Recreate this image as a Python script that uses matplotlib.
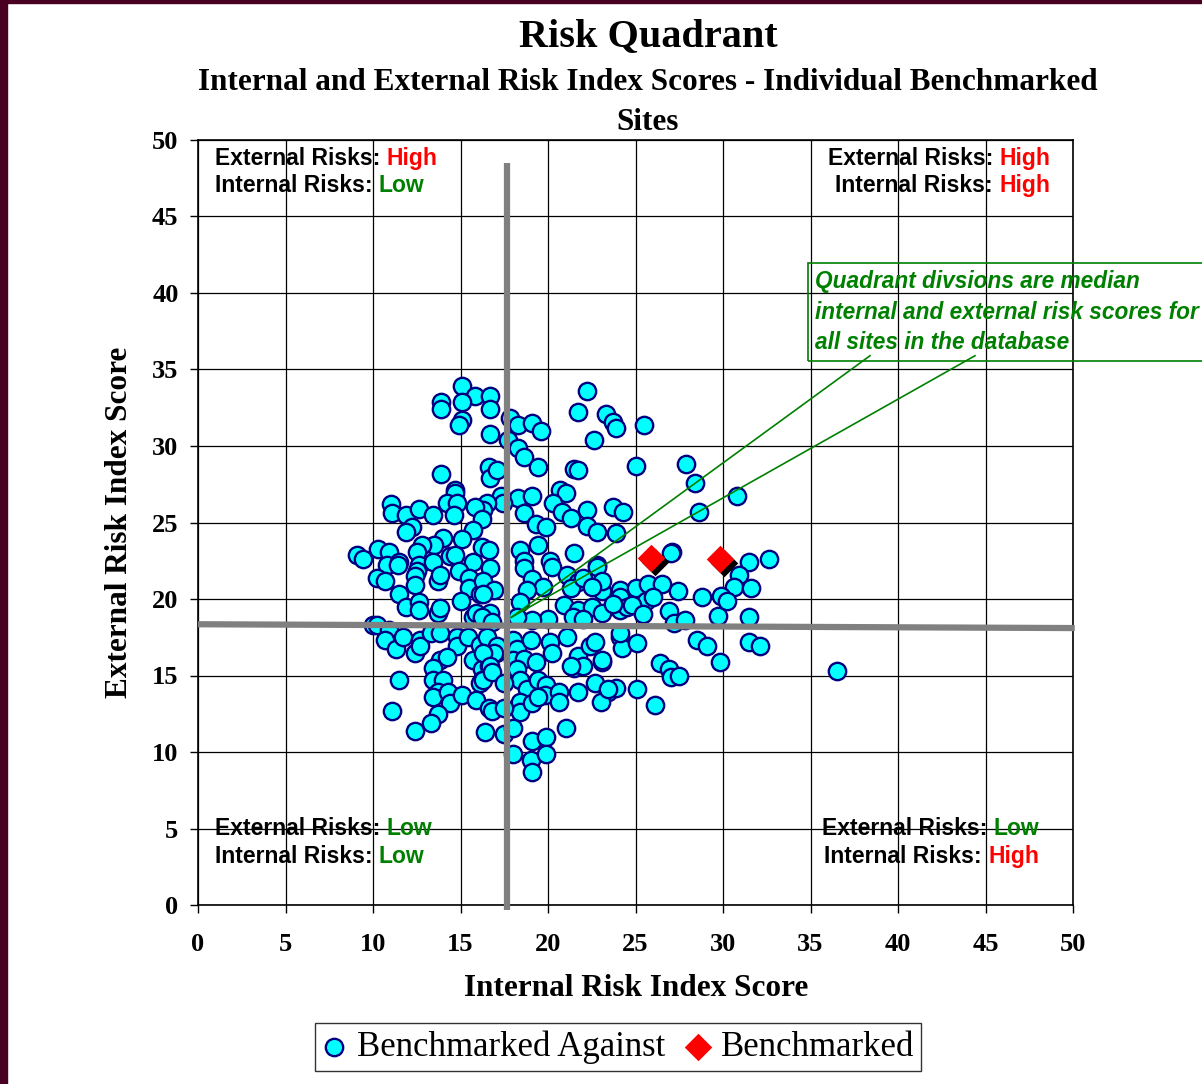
import matplotlib
matplotlib.use('Agg')
import matplotlib.pyplot as plt
import matplotlib.transforms as mtransforms
from matplotlib.patches import Rectangle
import numpy as np

# (internal, external) risk index scores of the sites benchmarked against
against = [
    (15.1, 33.9), (15.8, 33.3), (16.7, 33.3), (13.9, 32.9), (13.9, 32.4), (15.1, 32.9),
    (16.7, 32.4), (15.1, 31.7), (14.9, 31.4), (16.7, 30.8), (22.2, 33.6), (21.7, 32.2),
    (23.3, 32.1), (23.7, 31.6), (23.9, 31.2), (25.5, 31.4), (22.6, 30.4), (17.8, 31.8),
    (18.3, 31.4), (19.1, 31.5), (19.6, 31.0), (17.7, 30.4), (18.3, 29.9), (18.6, 29.3),
    (19.4, 28.6), (13.9, 28.2), (16.6, 28.6), (16.7, 27.9), (17.1, 28.4), (21.5, 28.5),
    (21.7, 28.4), (25.0, 28.7), (27.9, 28.8), (28.4, 27.6), (28.6, 25.7), (30.8, 26.7),
    (20.7, 27.1), (21.0, 26.9), (20.3, 26.3), (18.3, 26.6), (19.1, 26.7), (17.3, 26.7),
    (17.4, 26.3), (16.5, 26.3), (16.3, 25.8), (18.6, 25.6), (19.3, 24.9), (19.9, 24.7),
    (20.8, 25.7), (21.3, 25.3), (22.2, 25.8), (22.2, 24.8), (22.8, 24.4), (23.7, 26.0),
    (24.3, 25.7), (23.9, 24.3), (19.4, 23.5), (20.1, 22.5), (21.5, 23.0), (22.8, 22.2),
    (18.4, 23.2), (18.6, 22.5), (14.7, 27.1), (14.7, 26.9), (14.2, 26.3), (14.8, 26.3),
    (14.6, 25.5), (11.0, 26.2), (11.1, 25.6), (11.9, 25.5), (12.6, 25.9), (13.4, 25.5),
    (12.2, 24.7), (11.9, 24.4), (15.8, 26.0), (16.2, 25.2), (15.7, 24.5), (15.1, 23.9),
    (14.0, 24.0), (13.5, 23.5), (12.8, 23.5), (12.5, 23.1), (10.3, 23.3), (10.9, 23.1),
    (9.1, 22.9), (9.4, 22.6), (10.8, 22.2), (11.5, 22.4), (12.6, 22.2), (13.4, 22.4),
    (14.4, 22.8), (14.7, 22.9), (15.7, 22.4), (16.2, 23.4), (16.6, 23.2), (11.4, 22.2),
    (12.5, 21.8), (10.2, 21.4), (10.7, 21.2), (12.4, 21.5), (12.4, 20.9), (13.7, 21.2),
    (13.8, 21.6), (14.9, 21.8), (15.5, 21.4), (15.5, 20.7), (16.1, 20.3), (15.0, 19.9),
    (11.5, 20.3), (11.9, 19.5), (12.6, 19.8), (12.6, 19.3), (13.7, 19.1), (13.8, 19.4),
    (15.7, 18.8), (15.9, 19.1), (16.2, 18.6), (10.0, 18.3), (10.2, 18.3), (10.9, 18.0),
    (10.7, 17.3), (11.3, 16.7), (11.7, 17.5), (12.7, 17.3), (12.4, 16.5), (12.7, 16.9),
    (13.3, 17.8), (13.8, 17.8), (14.8, 17.5), (14.8, 16.9), (15.4, 17.5), (16.1, 17.0),
    (16.6, 16.9), (17.0, 16.5), (13.8, 16.0), (14.2, 16.2), (13.4, 15.5), (15.7, 16.0),
    (16.2, 15.4), (16.6, 15.6), (11.5, 14.7), (13.4, 14.7), (14.0, 14.7), (13.7, 13.9),
    (16.2, 14.7), (16.1, 14.5), (13.4, 13.6), (14.3, 13.9), (14.4, 13.2), (15.1, 13.7),
    (15.9, 13.4), (16.6, 12.9), (11.1, 12.7), (13.7, 12.5), (13.3, 11.9), (12.4, 11.4),
    (16.4, 11.3), (16.7, 22.0), (18.6, 22.0), (20.2, 22.1), (16.3, 21.2), (16.9, 20.6),
    (16.3, 20.3), (19.1, 21.3), (19.7, 20.8), (18.8, 20.6), (18.4, 19.8), (21.1, 21.6),
    (21.7, 21.1), (21.3, 20.7), (22.0, 21.4), (22.8, 22.1), (23.1, 20.5), (23.1, 21.2),
    (22.5, 20.8), (24.1, 20.6), (24.1, 20.1), (20.9, 19.6), (21.7, 19.3), (21.4, 18.8),
    (22.5, 19.5), (23.1, 19.1), (22.0, 18.7), (20.0, 18.7), (19.1, 18.6), (18.2, 18.8),
    (24.1, 19.3), (24.5, 19.5), (16.7, 19.1), (16.2, 18.8), (16.8, 18.5), (16.5, 17.5),
    (17.1, 16.9), (16.9, 16.5), (16.3, 16.5), (16.7, 15.6), (16.3, 14.7), (16.8, 15.2),
    (18.0, 17.3), (18.2, 16.7), (18.0, 16.0), (19.0, 17.3), (18.6, 16.1), (19.3, 15.9),
    (20.1, 17.2), (20.2, 16.5), (21.1, 17.5), (21.7, 16.3), (21.5, 15.5), (22.4, 16.9),
    (22.7, 17.2), (22.0, 15.6), (23.1, 15.9), (22.7, 14.5), (21.3, 15.6), (24.1, 17.5),
    (24.2, 16.8), (18.2, 15.4), (18.4, 14.7), (17.5, 14.5), (18.8, 14.1), (19.4, 14.7),
    (19.9, 14.4), (19.8, 13.7), (20.6, 13.9), (20.6, 13.3), (21.7, 13.9), (23.4, 13.9),
    (23.0, 13.3), (23.9, 14.2), (18.4, 13.3), (18.4, 12.6), (19.1, 13.2), (19.4, 13.6),
    (16.8, 12.7), (17.5, 12.9), (17.5, 11.2), (18.0, 11.6), (19.1, 10.7), (19.9, 11.0),
    (21.0, 11.6), (18.0, 9.9), (19.0, 9.5), (19.9, 9.9), (19.1, 8.7), (25.0, 20.7),
    (25.6, 19.9), (24.8, 19.6), (25.4, 19.0), (23.7, 19.7), (26.9, 19.2), (27.2, 18.4),
    (27.8, 18.6), (29.7, 18.9), (31.5, 18.8), (31.5, 17.2), (32.1, 16.9), (28.5, 17.3),
    (29.1, 16.9), (29.8, 15.9), (36.5, 15.3), (24.1, 17.8), (25.1, 17.1), (23.1, 16.0),
    (26.4, 15.8), (26.9, 15.4), (27.0, 14.9), (27.5, 15.0), (25.1, 14.1), (23.4, 14.1),
    (26.1, 13.1), (27.1, 23.1), (27.0, 23.0), (31.5, 22.4), (32.6, 22.6), (30.9, 21.6),
    (30.6, 20.8), (31.6, 20.7), (25.7, 21.0), (26.5, 21.0), (27.4, 20.5), (26.0, 20.1),
    (28.8, 20.1), (29.9, 20.2), (30.2, 19.9),
]
against_internal, against_external = np.array(against).T

benchmarked_internal = [25.9, 29.8]
benchmarked_external = [22.7, 22.6]

# median division lines as drawn
median_internal = 17.65
median_line_x = [0, 50.1]
median_line_y = [18.35, 18.1]

quadrant_texts = [
    # x, y, ha, lines of (label, value, value colour)
    (0.97, 48.8, 'left', [('External Risks: ', 'High', 'red'), ('Internal Risks: ', 'Low', 'green')]),
    (48.7, 48.8, 'right', [('External Risks: ', 'High', 'red'), ('Internal Risks: ', 'High', 'red')]),
    (0.97, 5.0, 'left', [('External Risks: ', 'Low', 'green'), ('Internal Risks: ', 'Low', 'green')]),
    (48.06, 5.0, 'right', [('External Risks: ', 'Low', 'green'), ('Internal Risks: ', 'High', 'red')]),
]
note = ('Quadrant divsions are median\n'
        'internal and external risk scores for\n'
        'all sites in the database')

colours = {'red': '#FF0000', 'green': '#008000'}
serif = 'Liberation Serif'
sans = 'Liberation Sans'

W, H = 1202, 1084
fig = plt.figure(figsize=(W / 100, H / 100), dpi=100)
ax = fig.add_axes([198 / W, (H - 905) / H, 875 / W, 765 / H])

ax.set_xlim(0, 50)
ax.set_ylim(0, 50)
ax.set_xticks(np.arange(0, 51, 5))
ax.set_yticks(np.arange(0, 51, 5))
ax.grid(True, color='black', lw=0.9)
ax.set_axisbelow(True)
for s in ax.spines.values():
    s.set_linewidth(1.2)
ax.tick_params(direction='out', length=6, width=1, labelsize=19)
ax.tick_params(axis='x', pad=14)
ax.tick_params(axis='y', pad=8)
for lab in ax.get_xticklabels() + ax.get_yticklabels():
    lab.set_fontfamily(serif)
    lab.set_fontweight('bold')

sc = ax.scatter(against_internal, against_external, s=12.5 ** 2, c='#00FFFF',
                edgecolors='#000080', linewidths=1.7, zorder=3,
                label='Benchmarked Against')

# quadrant division lines
ax.plot([median_internal, median_internal], [-0.3, 48.5], color='#808080',
        lw=4.5, zorder=4, clip_on=False, solid_capstyle='butt')
ax.plot(median_line_x, median_line_y, color='#808080', lw=4.5, zorder=4,
        clip_on=False, solid_capstyle='butt')

# callout lines
for x0 in [38.4, 44.4]:
    ax.plot([x0, 17.9], [35.9, 18.8], color='#008000', lw=1.2, zorder=5,
            clip_on=False)

# benchmarked sites with shadow
shadow = mtransforms.offset_copy(ax.transData, fig=fig, x=4, y=-4, units='dots')
ax.scatter(benchmarked_internal, benchmarked_external, marker='D', s=14 ** 2,
           c='black', linewidths=0, zorder=6, transform=shadow)
dm = ax.scatter(benchmarked_internal, benchmarked_external, marker='D',
                s=14 ** 2, c='#FF0000', linewidths=0, zorder=7,
                label='Benchmarked')

# quadrant labels, label in black and value in colour
qfont = dict(fontsize=16.5, fontweight='bold', fontfamily=sans)
for x, y, ha, lines in quadrant_texts:
    for i, (label, value, col) in enumerate(lines):
        yy = y - i * 1.8
        if ha == 'left':
            t = ax.text(x, yy, label, ha='left', va='center', color='black',
                        zorder=2, **qfont)
            ax.annotate(value, xy=(1, 0), xycoords=t, ha='left', va='bottom',
                        color=colours[col], zorder=2, **qfont)
        else:
            t = ax.text(x, yy, value, ha='right', va='center',
                        color=colours[col], zorder=2, **qfont)
            ax.annotate(label, xy=(0, 0), xycoords=t, ha='right', va='bottom',
                        color='black', zorder=2, **qfont)

fig.text(815 / W, 1 - 270 / H, note, ha='left', va='top', color='#008000',
         fontsize=16.3, fontweight='bold', fontstyle='italic', fontfamily=sans,
         linespacing=1.42,
         bbox=dict(boxstyle='square,pad=0.3', fc='none', ec='#008000', lw=1.2))

# titles
fig.text(648 / W, 1 - 37 / H, 'Risk Quadrant', ha='center', va='center',
         fontsize=29, fontweight='bold', fontfamily=serif)
fig.text(648 / W, 1 - 82 / H,
         'Internal and External Risk Index Scores - Individual Benchmarked',
         ha='center', va='center', fontsize=22.5, fontweight='bold', fontfamily=serif)
fig.text(648 / W, 1 - 122 / H, 'Sites', ha='center', va='center',
         fontsize=22.5, fontweight='bold', fontfamily=serif)
fig.text(636 / W, 1 - 989 / H, 'Internal Risk Index Score', ha='center',
         va='center', fontsize=22.5, fontweight='bold', fontfamily=serif)
fig.text(120 / W, 1 - 522 / H, 'External Risk Index Score', ha='center',
         va='center', rotation=90, fontsize=22.5, fontweight='bold',
         fontfamily=serif)

leg = fig.legend(handles=[sc, dm], loc='center', ncol=2,
                 bbox_to_anchor=(618 / W, 1 - 1047 / H),
                 prop={'family': serif, 'size': 25}, frameon=True,
                 fancybox=False, edgecolor='black', handlelength=0.7,
                 handletextpad=0.3, columnspacing=0.6, borderpad=0.2,
                 scatterpoints=1, markerscale=1.0)
leg.get_frame().set_linewidth(1.0)

# dark border on left and top of the slide
maroon = '#4A0022'
fig.add_artist(Rectangle((0, 0), 7 / W, 1, transform=fig.transFigure,
                         color=maroon, zorder=10))
fig.add_artist(Rectangle((0, 1 - 3 / H), 1, 3 / H, transform=fig.transFigure,
                         color=maroon, zorder=10))

fig.savefig('out.png', dpi=100)
